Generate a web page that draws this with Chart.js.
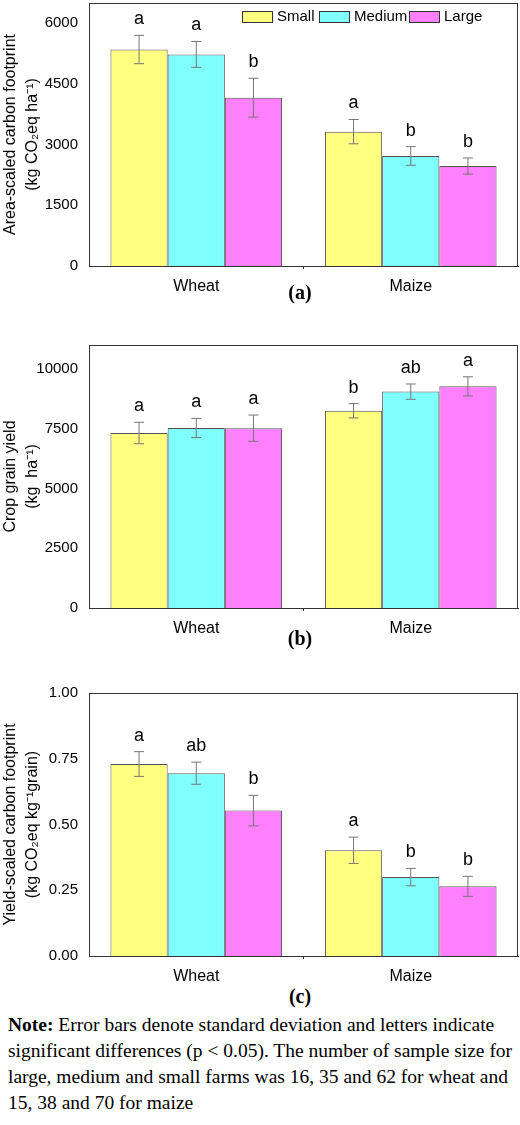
<!DOCTYPE html>
<html><head><meta charset="utf-8">
<script src="https://cdn.jsdelivr.net/npm/chart.js@4"></script>
<style>
body{margin:0;background:#fff;width:520px;height:1125px;position:relative;overflow:hidden}
.p{position:absolute;left:0;width:520px}
.cap{position:absolute;left:0;width:600px;text-align:center;font:bold 20px "Liberation Serif";}
#note{position:absolute;left:8px;top:1012px;width:512px;font:19.5px/26px "Liberation Serif";color:#000}
</style></head><body>
<div class="p" style="top:-9px;height:300px"><canvas id="ca"></canvas></div>
<div class="cap" style="top:281px">(a)</div>
<div class="p" style="top:333px;height:300px"><canvas id="cb"></canvas></div>
<div class="cap" style="top:627px">(b)</div>
<div class="p" style="top:681px;height:300px"><canvas id="cc"></canvas></div>
<div class="cap" style="top:985px">(c)</div>
<div id="note"><b>Note:</b> Error bars denote standard deviation and letters indicate significant differences (p &lt; 0.05). The number of sample size for large, medium and small farms was 16, 35 and 62 for wheat and 15, 38 and 70 for maize</div>
<script>
var crops = ["Wheat", "Maize"];
var sizes = ["Small", "Medium", "Large"];
var colors = ["#ffff80", "#80ffff", "#ff80ff"];

// (a) area-scaled carbon footprint
var a_vals = [[5350, 3320], [5230, 2720], [4160, 2470]];
var a_err = [[350, 300], [320, 230], [480, 200]];
var a_let = [["a", "a"], ["a", "b"], ["b", "b"]];
var a_ticks = [0, 1500, 3000, 4500, 6000];

// (b) crop grain yield
var b_vals = [[7320, 8250], [7530, 9050], [7520, 9270]];
var b_err = [[450, 300], [400, 320], [550, 400]];
var b_let = [["a", "b"], ["a", "ab"], ["a", "a"]];
var b_ticks = [0, 2500, 5000, 7500, 10000];

// (c) yield-scaled carbon footprint
var c_vals = [[0.73, 0.402], [0.695, 0.300], [0.553, 0.265]];
var c_err = [[0.047, 0.05], [0.042, 0.033], [0.058, 0.038]];
var c_let = [["a", "a"], ["ab", "b"], ["b", "b"]];
var c_ticks = [0, 0.25, 0.5, 0.75, 1.0];

function makeChart(id, vals, errs, lets, ticks, max, ylab, legend, dec) {
  var extras = {
    id: "extras",
    afterDatasetsDraw: function(chart) {
      var ctx = chart.ctx, y = chart.scales.y, a = chart.chartArea;
      ctx.save();
      chart.data.datasets.forEach(function(ds, i) {
        chart.getDatasetMeta(i).data.forEach(function(bar, j) {
          var v = vals[i][j], e = errs[i][j];
          var top = y.getPixelForValue(v + e), bot = y.getPixelForValue(v - e);
          ctx.strokeStyle = "#777"; ctx.lineWidth = 1;
          ctx.beginPath();
          ctx.moveTo(bar.x, top); ctx.lineTo(bar.x, bot);
          ctx.moveTo(bar.x - 5, top); ctx.lineTo(bar.x + 5, top);
          ctx.moveTo(bar.x - 5, bot); ctx.lineTo(bar.x + 5, bot);
          ctx.stroke();
          ctx.fillStyle = "#000"; ctx.font = "18px 'Liberation Sans'";
          ctx.textAlign = "center"; ctx.textBaseline = "bottom";
          ctx.fillText(lets[i][j], bar.x, top - 7);
        });
      });
      ctx.strokeStyle = "#333"; ctx.lineWidth = 1;
      ctx.strokeRect(a.left + 0.5, a.top + 0.5, a.right - a.left - 1, a.bottom - a.top);
      var mid = (a.left + a.right) / 2;
      ctx.beginPath(); ctx.moveTo(mid, a.bottom); ctx.lineTo(mid, a.bottom + 3); ctx.stroke();
      // axis title
      ctx.fillStyle = "#000"; ctx.font = "16px 'Liberation Sans'";
      ctx.translate(11, (a.top + a.bottom) / 2); ctx.rotate(-Math.PI / 2);
      ctx.textAlign = "center"; ctx.textBaseline = "middle";
      ctx.fillText(ylab[0], 0, 0);
      ctx.fillText(ylab[1], 0, 22);
      ctx.restore();
      if (legend) {
        ctx.save();
        var xs = [242, 319, 409];
        sizes.forEach(function(s, i) {
          ctx.fillStyle = colors[i]; ctx.fillRect(xs[i], a.top + 8, 30, 11);
          ctx.strokeStyle = "#333"; ctx.strokeRect(xs[i] + 0.5, a.top + 8.5, 30, 11);
          ctx.fillStyle = "#000"; ctx.font = "15px 'Liberation Sans'";
          ctx.textBaseline = "middle"; ctx.fillText(s, xs[i] + 35, a.top + 14);
        });
        ctx.restore();
      }
    }
  };
  return new Chart(document.getElementById(id), {
    type: "bar",
    data: {
      labels: crops,
      datasets: sizes.map(function(s, i) {
        return {label: s, data: vals[i], backgroundColor: colors[i], borderColor: "#555",
                borderWidth: 1, categoryPercentage: 0.8, barPercentage: 1.0};
      })
    },
    options: {
      responsive: true, maintainAspectRatio: false, animation: false,
      layout: {padding: {top: 2, right: 2}},
      plugins: {legend: {display: false}, tooltip: {enabled: false}},
      scales: {
        x: {grid: {display: false}, border: {color: "#333"},
            ticks: {color: "#000", font: {family: "Liberation Sans", size: 16}},
            afterFit: function(s) { s.height = 25; }},
        y: {min: 0, max: max, grid: {display: false, drawTicks: true}, border: {color: "#333"},
            afterBuildTicks: function(s) { s.ticks = ticks.map(function(v) { return {value: v}; }); },
            ticks: {color: "#000", font: {family: "Liberation Sans", size: 15},
                    callback: function(v) { return dec ? v.toFixed(2) : v; }},
            afterFit: function(s) { s.width = 89; }}
      }
    },
    plugins: [extras]
  });
}

makeChart("ca", a_vals, a_err, a_let, a_ticks, 6500,
  ["Area-scaled carbon footprint", "(kg CO\u2082eq ha\u207b\u00b9)"], true, false);
makeChart("cb", b_vals, b_err, b_let, b_ticks, 11000,
  ["Crop grain yield", "(kg  ha\u207b\u00b9)"], false, false);
makeChart("cc", c_vals, c_err, c_let, c_ticks, 1.0,
  ["Yield-scaled carbon footprint", "(kg CO\u2082eq kg\u207b\u00b9grain)"], false, true);
</script>
</body></html>
